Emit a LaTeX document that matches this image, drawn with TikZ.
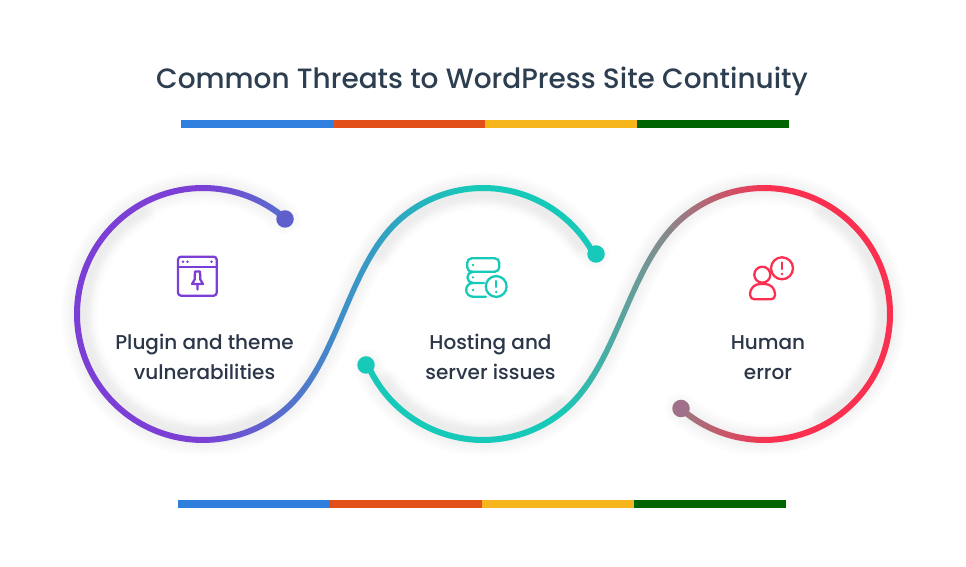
\documentclass[tikz,border=0pt]{standalone}
\usepackage{fontspec}
\setmainfont{Poppins Medium}
\definecolor{ink}{HTML}{2B3648}
\definecolor{titleink}{HTML}{2C3E50}
\definecolor{pur}{HTML}{7B3FD5}
\definecolor{tea}{HTML}{17C9B8}
\definecolor{red1}{HTML}{F9304F}
\definecolor{bl}{HTML}{2F7FDF}
\definecolor{orn}{HTML}{E2501A}
\definecolor{yel}{HTML}{F6B61B}
\definecolor{grn}{HTML}{006400}
\definecolor{midA}{HTML}{3F8FC8}
\definecolor{midB}{HTML}{7F8F90}
\definecolor{dotA}{HTML}{5F5FCB}
\definecolor{dotB}{HTML}{A0708A}
\pgfdeclarehorizontalshading{gradA}{100bp}{color(0bp)=(pur);color(37bp)=(pur);color(50bp)=(midA);color(62bp)=(tea);color(100bp)=(tea)}
\pgfdeclarehorizontalshading{gradB}{100bp}{color(0bp)=(tea);color(44bp)=(tea);color(53bp)=(midB);color(63bp)=(red1);color(100bp)=(red1)}
\newcommand{\centreA}{(203,253)++(49.2:126) arc[start angle=49.2,end angle=310,radius=126] .. controls +(40:72) and +(-140:72) .. ([shift={(130:126)}]483,253) arc[start angle=130,end angle=27.8,radius=126]}
\newcommand{\centreB}{(483,253)++(203.7:126) arc[start angle=203.7,end angle=310,radius=126] .. controls +(40:72) and +(-140:72) .. ([shift={(130:126)}]764,253) arc[start angle=130,end angle=-131.4,radius=126]}
\newcommand{\glow}[1]{%
  \foreach \w in {8,12,16,20,24,28,32}{\draw[black,opacity=0.006,line width=\w pt,line cap=round] #1;}}
\newcommand{\innerglow}[4]{% centre x, from, to, radius
  \foreach \w in {6,10,14,18,22}{\draw[black,opacity=0.007,line width=\w pt,line cap=round] ([shift={(#2:#4)}]#1,253) arc[start angle=#2,end angle=#3,radius=#4];}}
\tikzset{
  bar/.style={fill=#1,draw=none},
  lbl/.style={text=ink,font=\fontsize{20}{30}\selectfont,align=center,inner sep=0pt},
  dotnode/.style={circle,fill=#1,draw=none,minimum size=17.5pt,inner sep=0pt},
  ico/.style={draw=#1,line width=2.3pt,line cap=round,line join=round,fill=none}
}
\begin{document}
\begin{tikzpicture}[x=1pt,y=1pt]
\useasboundingbox (0,0) rectangle (966,567);
\fill[white] (0,0) rectangle (966,567);
% title
\node[text=titleink,font=\fontsize{27.95}{32}\selectfont,inner sep=0pt] (title) at (482,486) {Common Threats to WordPress Site Continuity};
% colour bars
\fill[bar=bl] (181,447) rectangle (333,439);
\fill[bar=orn] (333,447) rectangle (485,439);
\fill[bar=yel] (485,447) rectangle (637,439);
\fill[bar=grn] (637,447) rectangle (789,439);
\fill[bar=bl] (178,67) rectangle (330,59);
\fill[bar=orn] (330,67) rectangle (482,59);
\fill[bar=yel] (482,67) rectangle (634,59);
\fill[bar=grn] (634,67) rectangle (786,59);
% soft glow
\glow{\centreA}
\glow{\centreB}
\innerglow{203}{120}{300}{116}
\innerglow{483}{35}{150}{116}
\innerglow{483}{215}{310}{116}
\innerglow{764}{-60}{60}{116}
% anchor points of the ribbons
\coordinate (Bo) at ([shift={(130:123)}]483,253);
\coordinate (Ai) at ([shift={(-50:123)}]203,253);
\coordinate (Ci) at ([shift={(-50:123)}]483,253);
\coordinate (Do) at ([shift={(130:123)}]764,253);
% band 1
\begin{scope}
\clip (203,253)++(49.2:129) arc[start angle=49.2,end angle=310,radius=129] .. controls +(40:72) and +(-140:72) .. (Bo) arc[start angle=130,end angle=27.8,radius=123] -- ([shift={(27.8:129)}]483,253) arc[start angle=27.8,end angle=130,radius=129] .. controls +(-140:72) and +(40:72) .. (Ai) arc[start angle=310,end angle=49.2,radius=123] -- cycle;
\shade[shading=gradA] (70,120) rectangle (612,390);
\end{scope}
% band 2
\begin{scope}
\clip (483,253)++(203.7:129) arc[start angle=203.7,end angle=310,radius=129] .. controls +(40:72) and +(-140:72) .. (Do) arc[start angle=130,end angle=-131.4,radius=123] -- ([shift={(-131.4:129)}]764,253) arc[start angle=-131.4,end angle=130,radius=129] .. controls +(-140:72) and +(40:72) .. (Ci) arc[start angle=310,end angle=203.7,radius=123] -- cycle;
\shade[shading=gradB] (350,120) rectangle (900,390);
\end{scope}
% dots
\node[dotnode=dotA] (d1) at (285,348) {};
\node[dotnode=tea] (d2) at (596,313) {};
\node[dotnode=tea] (d3) at (366,202) {};
\node[dotnode=dotB] (d4) at (681,158.5) {};
% labels
\node[lbl] (t1) at (204.5,210) {Plugin and theme\\vulnerabilities};
\node[lbl] (t2) at (490.5,210) {Hosting and\\server issues};
\node[lbl] (t3) at (768,209) {Human\\error};
% icon 1
\draw[ico=pur,rounded corners=3pt] (178,310.3) rectangle (216.7,271.3);
\draw[ico=pur] (178,300.3) -- (216.7,300.3);
\fill[pur] (183,305.2) circle (1.3) (187.5,305.2) circle (1.3) (211.5,305.2) circle (1.3);
\draw[ico=pur] (195,295.5) -- (200,295.5) -- (200.3,287.5) -- (203,283) -- (192,283) -- (194.7,287.5) -- cycle (197.5,283) -- (197.5,277.5);
% icon 2
\draw[ico=tea,rounded corners=4.5pt] (467.2,308.7) rectangle (499.3,295.3);
\draw[ico=tea] (473,295.3) arc[start angle=90,end angle=270,radius=5.65] -- (484,284);
\draw[ico=tea] (473,284) arc[start angle=90,end angle=270,radius=6.85] -- (486,270.3);
\draw[ico=tea] (496.2,280.5) circle (10.4);
\draw[ico=tea] (496.2,286) -- (496.2,280);
\fill[tea] (496.2,275) circle (1.4);
\fill[tea] (473,302) circle (1.3) (473,289.6) circle (1.3) (473,277) circle (1.3);
% icon 3
\draw[ico=red1] (762.3,292.3) circle (8);
\draw[ico=red1] (754.5,267.7) -- (771,267.7) arc[start angle=-90,end angle=0,radius=4] -- (775,273) arc[start angle=0,end angle=90,radius=10] -- (760,283) arc[start angle=90,end angle=180,radius=10] -- (750.2,271.7) arc[start angle=180,end angle=270,radius=4] -- cycle;
\draw[ico=red1,fill=white] (782,298.7) circle (11);
\draw[ico=red1] (782,304.5) -- (782,298);
\fill[red1] (782,293) circle (1.4);
\end{tikzpicture}
\end{document}
